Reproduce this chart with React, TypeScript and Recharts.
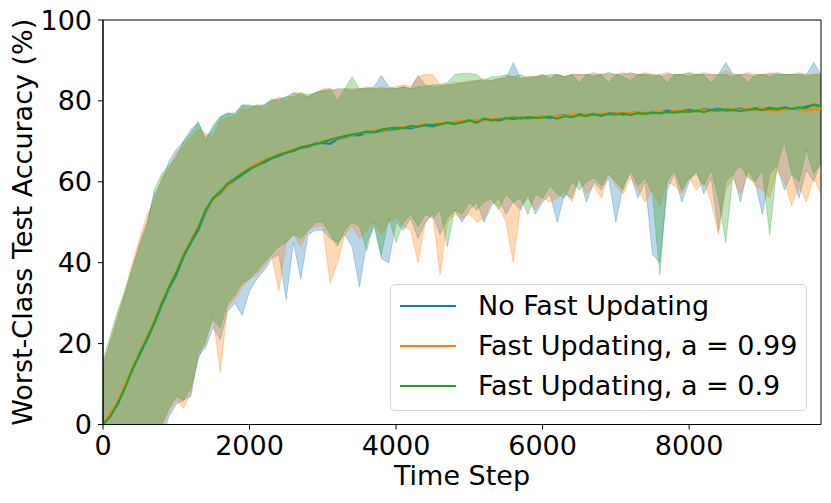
import React from 'react';
import { ComposedChart, Area, Line, XAxis, YAxis, Legend, ReferenceArea } from 'recharts';

const STEPS = [
  0, 100, 200, 300, 400, 500, 600, 700, 800, 900,
  1000, 1100, 1200, 1300, 1400, 1500, 1600, 1700, 1800, 1900,
  2000, 2100, 2200, 2300, 2400, 2500, 2600, 2700, 2800, 2900,
  3000, 3100, 3200, 3300, 3400, 3500, 3600, 3700, 3800, 3900,
  4000, 4100, 4200, 4300, 4400, 4500, 4600, 4700, 4800, 4900,
  5000, 5100, 5200, 5300, 5400, 5500, 5600, 5700, 5800, 5900,
  6000, 6100, 6200, 6300, 6400, 6500, 6600, 6700, 6800, 6900,
  7000, 7100, 7200, 7300, 7400, 7500, 7600, 7700, 7800, 7900,
  8000, 8100, 8200, 8300, 8400, 8500, 8600, 8700, 8800, 8900,
  9000, 9100, 9200, 9300, 9400, 9500, 9600, 9700, 9800,
];

const X_TICKS = [0, 2000, 4000, 6000, 8000];
const Y_TICKS = [0, 20, 40, 60, 80, 100];

const SERIES_NAMES = ['No Fast Updating', 'Fast Updating, a = 0.99', 'Fast Updating, a = 0.9'];

// No Fast Updating
const blueMean = [
  0, 2.2, 5.0, 9.5, 13.5, 17.3, 21.0, 25.0, 29.5, 33.5,
  37.0, 41.5, 45.0, 48.0, 52.5, 55.8, 57.2, 59.2, 60.5, 61.8,
  63.0, 64.2, 64.8, 65.8, 66.4, 67.2, 67.6, 68.4, 68.7, 69.5,
  69.6, 69.4, 70.6, 71.0, 71.6, 71.5, 72.2, 72.3, 72.6, 72.8,
  73.1, 73.4, 73.2, 73.8, 74.0, 73.7, 74.3, 74.6, 74.4, 74.9,
  75.1, 74.9, 75.3, 75.4, 75.2, 75.6, 75.5, 75.9, 75.7, 76.0,
  76.1, 75.8, 76.3, 76.4, 76.2, 76.7, 76.5, 76.8, 76.3, 76.9,
  77.0, 76.6, 76.9, 77.2, 76.8, 77.3, 77.1, 77.6, 77.3, 77.5,
  77.8, 77.4, 77.9, 77.7, 78.0, 77.6, 77.8, 78.1, 77.7, 78.2,
  77.9, 78.3, 78.0, 78.4, 78.1, 77.9, 78.6, 79.0, 78.7,
];
const blueLow = [
  -40, -35, -30, -26, -22, -18, -14, -9, -4, 2,
  5, 6, 7, 17, 19, 24, 21, 28, 30, 27,
  33, 36, 38, 41, 42, 31, 45, 36, 47, 48,
  48, 46, 45, 47, 44, 34, 45, 49, 41, 40,
  50, 48, 51, 46, 50, 52, 47, 51, 53, 50,
  53, 55, 50, 54, 56, 52, 55, 53, 57, 52,
  55, 57, 50, 57, 56, 61, 55, 60, 58, 61,
  50, 59, 62, 56, 60, 42, 40, 58, 62, 55,
  60, 63, 57, 61, 48, 60, 62, 55, 63, 60,
  52, 62, 64, 58, 62, 56, 63, 60, 65,
];
const blueHigh = [
  15, 20, 26, 32, 38, 45, 50, 57, 60, 65,
  68, 70, 73, 74.5, 71, 73, 76, 77, 76.5, 79,
  79, 78.5, 79, 80, 80.5, 81, 82, 81.5, 81, 82,
  82.5, 82.5, 83, 83, 82.5, 83, 83, 83.5, 86.3, 83.5,
  83, 83.5, 83, 86.3, 84, 83.5, 83.5, 84, 84, 84.5,
  84.5, 85, 85, 85, 85.5, 85.5, 89.5, 85.5, 86, 86,
  86, 86.5, 86.5, 86, 86.5, 86.5, 86.5, 86.5, 86.5, 87,
  86.5, 86.5, 87, 86.5, 86.5, 86.5, 86, 86.5, 86.5, 86.5,
  87, 86.5, 86.5, 86.5, 86.5, 89.5, 86.5, 86.5, 86.5, 86,
  86.5, 86.5, 87, 86.5, 86.5, 86.5, 86.5, 89.5, 86.5,
];

// Fast Updating, a = 0.99
const orangeMean = [
  0, 2.8, 5.5, 9.8, 14.0, 17.8, 21.5, 25.6, 30.0, 33.8,
  37.8, 42.0, 45.5, 48.8, 52.8, 55.6, 57.5, 59.0, 60.8, 62.2,
  63.5, 64.5, 65.3, 66.0, 66.8, 67.3, 68.0, 68.5, 69.0, 69.4,
  69.9, 70.3, 70.8, 71.2, 71.6, 72.0, 72.1, 72.6, 72.7, 73.0,
  73.3, 73.5, 73.6, 73.9, 74.2, 74.3, 74.5, 74.5, 74.8, 75.0,
  75.0, 75.3, 75.1, 75.5, 75.6, 75.4, 75.9, 75.8, 75.9, 76.0,
  76.2, 76.1, 76.3, 76.3, 76.5, 76.4, 76.7, 76.6, 76.9, 76.8,
  76.9, 77.1, 76.9, 77.2, 77.0, 77.3, 77.4, 77.2, 77.5, 77.6,
  77.3, 77.5, 77.7, 77.4, 77.8, 77.7, 77.9, 77.8, 78.0, 77.9,
  78.1, 77.6, 77.5, 77.8, 78.2, 78.0, 77.6, 77.9, 78.1,
];
const orangeLow = [
  -38, -32, -28, -24, -20, -16, -12, -6, -1, 3,
  6, 4, 8, 18, 20, 27, 13, 29, 31, 34,
  36, 37, 39, 42, 33, 45, 47, 44, 48, 49,
  49, 35, 40, 47, 49, 46, 48, 50, 47, 50,
  51, 49, 48, 40, 50, 52, 37, 50, 52, 51,
  52, 50, 51, 55, 54, 50, 40, 54, 56, 53,
  56, 55, 56, 58, 55, 61, 57, 59, 56, 62,
  59, 57, 61, 58, 55, 58, 54, 60, 59, 57,
  61, 58, 60, 55, 47, 58, 61, 57, 62, 59,
  58, 56, 63, 60, 54, 59, 55, 61, 57,
];
const orangeHigh = [
  14, 21, 27, 33, 40, 46, 52, 55, 61, 63,
  67, 69, 71, 73, 72, 71, 75, 76, 76, 78,
  78, 79, 78, 80, 81, 80, 82, 82, 81, 82,
  83, 83, 82.5, 83, 83, 83, 83.5, 83, 83.5, 83,
  83.5, 84, 83.5, 86, 86.5, 86.5, 84, 84, 84.5, 84.5,
  85, 85, 85.5, 85, 85.5, 86, 86, 85.5, 86, 86,
  86.5, 86, 86.5, 86, 86.5, 86.5, 86.5, 87, 86.5, 86.5,
  86.5, 87, 86.5, 86.5, 87, 86.5, 86.5, 87, 86.5, 86.5,
  86.5, 86.5, 87, 86.5, 86.5, 87.5, 86.5, 86.5, 87, 86.5,
  86.5, 87, 86.5, 86.5, 86.5, 87, 86.5, 86.5, 86.5,
];

// Fast Updating, a = 0.9
const greenMean = [
  0, 2.0, 5.2, 9.0, 13.6, 17.5, 21.2, 25.2, 29.8, 33.9,
  37.5, 41.8, 45.2, 48.5, 53.0, 55.9, 57.6, 59.5, 60.8, 62.0,
  63.2, 64.0, 65.0, 65.9, 66.6, 67.2, 67.8, 68.5, 68.9, 69.3,
  69.8, 70.4, 70.9, 71.3, 71.7, 72.0, 72.4, 72.3, 72.9, 73.2,
  73.4, 73.2, 73.8, 73.6, 74.1, 74.0, 74.2, 74.6, 74.3, 74.7,
  75.2, 74.6, 75.6, 75.2, 75.4, 75.7, 75.9, 75.6, 76.0, 75.8,
  75.9, 76.1, 75.6, 76.2, 76.0, 76.5, 76.3, 76.7, 76.4, 76.8,
  76.6, 76.9, 76.5, 77.0, 76.8, 77.1, 76.9, 77.3, 77.1, 77.4,
  77.3, 77.6, 77.2, 77.8, 77.6, 77.9, 77.7, 77.5, 77.8, 78.0,
  77.7, 78.1, 77.9, 78.3, 78.0, 78.4, 78.2, 79.1, 78.6,
];
const greenLow = [
  -42, -36, -31, -27, -23, -19, -13, -3, 0, 4,
  7, 6, 9, 16, 21, 26, 24, 30, 32, 35,
  36, 38, 40, 42, 44, 45, 47, 46, 48, 50,
  50, 47, 44, 48, 50, 49, 43, 50, 42, 51,
  45, 50, 52, 49, 52, 51, 53, 44, 53, 52,
  55, 53, 55, 56, 53, 57, 55, 56, 52, 57,
  56, 59, 57, 56, 60, 58, 60, 61, 59, 62,
  60, 58, 63, 59, 61, 57, 37, 60, 63, 58,
  61, 62, 59, 63, 56, 45, 62, 64, 61, 60,
  63, 47, 64, 70, 62, 60, 68, 62, 65,
];
const greenHigh = [
  16, 22, 28, 33, 39, 44, 49, 58, 62, 64,
  66, 70, 72, 75, 70, 74, 76, 77, 77, 79,
  78.5, 79, 79, 80.5, 80, 81, 81, 82, 81.5, 82,
  82.5, 83, 80, 83, 86, 83, 83, 83, 83, 83,
  83, 83.5, 83, 83.5, 83.5, 84, 84, 84.5, 86.5, 86.8,
  86.8, 86.5, 85, 86, 86, 86.5, 86, 86.5, 85.5, 86,
  86.5, 85.5, 86.5, 86, 86.5, 84.5, 86.5, 86, 86.5, 84.5,
  86.5, 86, 85, 86.5, 86.5, 86, 86.5, 84.5, 86.5, 86.5,
  86, 86.5, 86.5, 84.5, 86.5, 86.5, 86, 86.5, 84.5, 86.5,
  86.5, 86, 86.5, 86.5, 86.5, 86.5, 86, 86.5, 86.5,
];

const COLORS = ['#1f77b4', '#ff7f0e', '#2ca02c'];
const FONT = '"DejaVu Sans", sans-serif';
const FS = 27;

const data = STEPS.map((s, i) => ({
  step: s,
  m0: blueMean[i],
  m1: orangeMean[i],
  m2: greenMean[i],
  b0: [blueLow[i], blueHigh[i]],
  b1: [orangeLow[i], orangeHigh[i]],
  b2: [greenLow[i], greenHigh[i]],
}));

const LegendBox = () => (
  <div
    style={{
      position: 'relative',
      width: 417,
      height: 127,
      boxSizing: 'border-box',
      border: '1px solid #d6d6d6',
      borderRadius: 5,
      background: 'rgba(255,255,255,0.85)',
      fontFamily: FONT,
      fontSize: FS,
      color: '#000',
    }}
  >
    {SERIES_NAMES.map((name, i) => (
      <React.Fragment key={name}>
        <div
          style={{
            position: 'absolute',
            left: 9,
            top: 19.5 + i * 40,
            width: 56,
            height: 2.4,
            background: COLORS[i],
          }}
        />
        <div
          style={{
            position: 'absolute',
            left: 87,
            top: 4.6 + i * 40,
            lineHeight: '32px',
            whiteSpace: 'nowrap',
          }}
        >
          {name}
        </div>
      </React.Fragment>
    ))}
  </div>
);

const XLabel = (props: any) => {
  const vb = props.viewBox;
  return (
    <text x={vb.x + vb.width / 2} y={vb.y + 60.5} textAnchor="middle" fontSize={FS} fontFamily={FONT} fill="#000">
      Time Step
    </text>
  );
};

const YLabel = (props: any) => {
  const vb = props.viewBox;
  const cx = 31.5;
  const cy = vb.y + vb.height / 2;
  return (
    <text x={cx} y={cy} textAnchor="middle" fontSize={FS} fontFamily={FONT} fill="#000" transform={`rotate(-90, ${cx}, ${cy})`}>
      Worst-Class Test Accuracy (%)
    </text>
  );
};

const tickStyle = { fill: '#000', fontSize: FS, fontFamily: FONT };

export default function App() {
  return (
    <div style={{ position: 'absolute', left: 0, top: 0, width: 831, height: 503, background: '#fff' }}>
      <ComposedChart
        width={831}
        height={503}
        data={data}
        margin={{ top: 20, right: 10, bottom: 0, left: 0 }}
        style={{ fontFamily: FONT }}
      >
        <XAxis
          dataKey="step"
          type="number"
          domain={[0, 9800]}
          ticks={X_TICKS}
          allowDataOverflow
          height={78.5}
          tickSize={5}
          tickMargin={6}
          tick={tickStyle}
          axisLine={{ stroke: '#000', strokeWidth: 1 }}
          tickLine={{ stroke: '#000', strokeWidth: 1 }}
          label={<XLabel />}
        />
        <YAxis
          type="number"
          domain={[0, 100]}
          ticks={Y_TICKS}
          allowDataOverflow
          width={103}
          tickSize={5}
          tickMargin={6}
          tick={tickStyle}
          axisLine={{ stroke: '#000', strokeWidth: 1 }}
          tickLine={{ stroke: '#000', strokeWidth: 1 }}
          label={<YLabel />}
        />
        {[0, 1, 2].map((i) => (
          <Area
            key={`band${i}`}
            dataKey={`b${i}`}
            type="linear"
            fill={COLORS[i]}
            fillOpacity={0.3}
            stroke={COLORS[i]}
            strokeOpacity={0.3}
            strokeWidth={1}
            isAnimationActive={false}
            legendType="none"
            activeDot={false}
            dot={false}
          />
        ))}
        {[0, 1, 2].map((i) => (
          <Line
            key={`line${i}`}
            dataKey={`m${i}`}
            name={SERIES_NAMES[i]}
            type="linear"
            stroke={COLORS[i]}
            strokeWidth={2.2}
            dot={false}
            activeDot={false}
            isAnimationActive={false}
          />
        ))}
        <ReferenceArea
          x1={0}
          x2={9800}
          y1={0}
          y2={100}
          fill="none"
          fillOpacity={0}
          stroke="#000"
          strokeWidth={1}
          ifOverflow="visible"
        />
        <Legend
          layout="vertical"
          align="center"
          verticalAlign="middle"
          wrapperStyle={{ position: 'absolute', left: 390, top: 284, width: 417, height: 127 }}
          content={<LegendBox />}
        />
      </ComposedChart>
    </div>
  );
}
